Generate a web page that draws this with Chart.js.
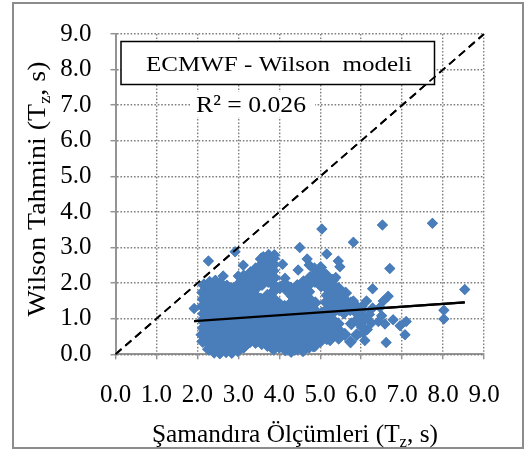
<!DOCTYPE html>
<html>
<head>
<meta charset="utf-8">
<script src="https://cdn.jsdelivr.net/npm/chart.js@4"></script>
<style>
  html, body { margin: 0; padding: 0; background: #fff; }
</style>
</head>
<body>
<canvas id="grafik" width="532" height="456"></canvas>
<script>
// Eksen sınırları
const eksenMin = 0;
const eksenMax = 9;
const eksenAdim = 1;

// Yoğun bölge (şamandıra Tz, Wilson Tz) - resimden okunan noktalar
const yogunKume = [
  [2.13,0.36],[2.11,0.55],[2.14,0.74],[2.12,0.95],[2.15,1.14],[2.12,1.35],[2.14,1.55],[2.13,1.74],[2.16,1.95],
  [2.27,0.14],[2.29,0.27],[2.26,0.46],[2.28,0.65],[2.25,0.86],[2.28,1.05],[2.27,1.24],[2.29,1.45],[2.26,1.64],[2.28,1.85],[2.3,2.02],
  [2.41,0.06],[2.43,0.17],[2.4,0.36],[2.42,0.57],[2.41,0.76],[2.44,0.95],[2.4,1.16],[2.42,1.35],[2.43,1.56],[2.41,1.75],[2.4,1.94],[2.44,2.06],
  [2.55,0.04],[2.56,0.26],[2.54,0.47],[2.57,0.66],[2.55,0.85],[2.53,1.06],[2.56,1.25],[2.55,1.46],[2.57,1.65],[2.54,1.84],[2.56,2.0],
  [2.7,0.07],[2.68,0.18],[2.71,0.37],[2.69,0.56],[2.72,0.77],[2.7,0.96],[2.68,1.15],[2.71,1.34],[2.7,1.56],[2.69,1.75],[2.72,1.92],
  [2.84,0.05],[2.85,0.27],[2.83,0.46],[2.86,0.67],[2.84,0.86],[2.82,1.05],[2.85,1.26],[2.84,1.45],[2.86,1.66],[2.83,1.85],
  [2.99,0.1],[2.97,0.19],[3.0,0.36],[2.98,0.57],[3.01,0.76],[2.99,0.97],[2.97,1.16],[3.0,1.35],[2.98,1.56],[3.01,1.76],[2.99,1.95],
  [3.13,0.2],[3.15,0.28],[3.12,0.47],[3.14,0.66],[3.13,0.86],[3.11,1.05],[3.14,1.26],[3.13,1.45],[3.15,1.64],[3.12,1.86],[3.14,2.05],[3.13,2.2],
  [3.28,0.35],[3.26,0.56],[3.29,0.75],[3.27,0.96],[3.3,1.15],[3.28,1.36],[3.26,1.55],[3.29,1.76],[3.27,1.95],[3.28,2.14],[3.3,2.3],
  [3.42,0.33],[3.44,0.46],[3.41,0.66],[3.43,0.85],[3.42,1.06],[3.4,1.25],[3.43,1.46],[3.42,1.65],[3.44,1.86],[3.41,2.05],[3.43,2.24],[3.42,2.4],
  [3.57,0.3],[3.55,0.55],[3.58,0.76],[3.56,0.95],[3.59,1.16],[3.57,1.35],[3.55,1.55],[3.58,1.96],[3.56,2.16],[3.57,2.35],[3.59,2.55],[3.56,2.68],
  [3.71,0.25],[3.73,0.46],[3.7,0.65],[3.72,0.86],[3.71,1.05],[3.69,1.26],[3.72,1.45],[3.71,1.66],[3.73,2.05],[3.7,2.25],[3.72,2.45],[3.71,2.62],[3.74,2.78],
  [3.86,0.14],[3.84,0.36],[3.87,0.56],[3.85,0.75],[3.88,0.96],[3.86,1.15],[3.84,1.36],[3.87,1.55],[3.85,1.76],[3.86,1.95],[3.88,2.15],[3.85,2.35],[3.87,2.52],[3.86,2.7],
  [4.0,0.2],[4.02,0.27],[3.99,0.46],[4.01,0.65],[4.0,0.86],[3.98,1.05],[4.01,1.26],[4.0,1.42],[4.02,1.88],
  [4.15,0.12],[4.13,0.36],[4.16,0.55],[4.14,0.76],[4.17,0.95],[4.15,1.16],[4.13,1.35],[4.16,1.82],[4.14,1.98],
  [4.29,0.08],[4.31,0.26],[4.28,0.46],[4.3,0.65],[4.29,0.86],[4.27,1.05],[4.3,1.26],[4.29,1.45],[4.31,1.64],[4.28,1.86],
  [4.44,0.15],[4.42,0.36],[4.45,0.55],[4.43,0.76],[4.46,0.95],[4.44,1.16],[4.42,1.35],[4.45,1.56],[4.43,1.75],[4.44,1.93],
  [4.58,0.1],[4.6,0.26],[4.57,0.46],[4.59,0.65],[4.58,0.86],[4.56,1.05],[4.59,1.26],[4.58,1.45],[4.6,1.66],[4.57,1.85],[4.59,2.04],
  [4.73,0.2],[4.71,0.36],[4.74,0.56],[4.72,0.75],[4.75,0.96],[4.73,1.15],[4.71,1.36],[4.74,1.55],[4.72,1.76],[4.73,1.96],[4.75,2.16],
  [4.87,0.24],[4.89,0.46],[4.86,0.65],[4.88,0.86],[4.87,1.05],[4.85,1.26],[4.88,1.45],[4.87,2.05],[4.89,2.24],[4.86,2.4],
  [5.02,0.38],[5.0,0.56],[5.03,0.76],[5.01,0.95],[5.04,1.16],[5.02,1.92],[5.0,2.14],[5.03,2.32],[5.01,2.44],
  [5.16,0.44],[5.18,0.66],[5.15,0.85],[5.17,1.06],[5.16,1.25],[5.14,1.46],[5.17,1.66],[5.16,1.86],[5.18,2.05],[5.15,2.22],
  [5.31,0.56],[5.29,0.76],[5.32,0.95],[5.3,1.16],[5.33,1.35],[5.31,1.55],[5.29,1.75],[5.32,1.95],[5.3,2.08],
  [5.45,0.45],[5.47,0.66],[5.44,0.86],[5.46,1.25],[5.45,1.46],[5.43,1.65],[5.46,1.84],
  [5.6,0.56],[5.58,1.16],[5.61,1.36],[5.59,1.55],[5.62,1.72],
  [5.74,0.35],[5.76,0.86],[5.73,1.25],[5.75,1.45],
  [5.89,0.55],[5.88,0.95],[5.9,1.15],[5.87,1.36],
  [6.03,0.76],[6.05,1.05],[6.02,1.25]
];

// Dağınık noktalar
const daginikNoktalar = [
  [1.92,1.29],[2.27,2.62],[2.63,2.2],[3.0,2.2],[2.92,2.88],[3.12,2.5],[3.61,2.74],[3.88,2.8],
  [4.08,2.53],[4.14,2.14],[4.46,2.37],[4.5,3.0],[4.68,2.68],[4.73,2.51],[5.16,2.82],[5.44,2.62],
  [5.48,2.46],[5.38,2.16],[5.04,3.52],[5.81,3.15],[6.52,3.63],[7.74,3.68],[6.7,2.41],[6.28,1.84],
  [6.66,1.63],[6.54,1.5],[6.46,1.32],[6.13,1.5],[5.81,1.5],[6.02,1.35],[6.28,1.3],[6.2,1.12],
  [6.1,1.0],[6.5,1.08],[6.78,0.97],[7.1,0.92],[6.95,0.8],[6.58,0.85],[6.42,0.92],[6.25,0.88],
  [6.0,0.82],[6.15,0.7],[6.05,0.6],[7.07,0.55],[6.61,0.33],[6.09,0.39],[5.24,0.39],[4.83,0.21],
  [4.38,0.12],[8.53,1.82],[8.02,1.24],[8.02,0.99]
];

// Doğrusal eğilim çizgisi ve 1:1 çizgisi
const egilimX = [1.92, 8.53];
const egilimY = [0.93, 1.46];
const birebirX = [0, 9];
const birebirY = [0, 9];

const baslik = 'ECMWF - Wilson  modeli';
const r2Yazi = 'R² = 0.026';
const xBaslik = [['Şamandıra Ölçümleri (T', false], ['z', true], [', s)', false]];
const yBaslik = [['Wilson Tahmini (T', false], ['z', true], [', s)', false]];

const FONT = "'Liberation Serif', 'Times New Roman', serif";
const MAVI = '#4A7EBB';

// Ortalanmış, istenen genişliğe yatay olarak uydurulmuş yazı (alt simge destekli)
function yaz(ctx, parcalar, boyut, genislik) {
  const olc = p => {
    ctx.font = (p[1] ? boyut * 0.66 : boyut) + 'px ' + FONT;
    return ctx.measureText(p[0]).width;
  };
  const toplam = parcalar.reduce((t, p) => t + olc(p), 0);
  ctx.save();
  ctx.scale(genislik / toplam, 1);
  let x = -toplam / 2;
  ctx.textAlign = 'left';
  ctx.textBaseline = 'alphabetic';
  parcalar.forEach(p => {
    const w = olc(p);
    ctx.fillText(p[0], x, p[1] ? boyut * 0.2 : 0);
    x += w;
  });
  ctx.restore();
}

// Izgara veri katmanlarından sonra çizildiği için kutu ve seriler en sonda tekrar üste alınır
const yazilar = {
  id: 'yazilar',
  afterDraw(chart) {
    const ctx = chart.ctx;
    ctx.save();
    // başlık kutusu
    ctx.fillStyle = '#fff';
    ctx.fillRect(121, 41.5, 313.5, 43);
    ctx.strokeStyle = '#000';
    ctx.lineWidth = 1.5;
    ctx.strokeRect(121, 41.5, 313.5, 43);
    ctx.fillStyle = '#000';
    ctx.save();
    ctx.translate(279, 70.5);
    yaz(ctx, [[baslik, false]], 22, 266);
    ctx.restore();
    // R²
    ctx.fillStyle = '#fff';
    ctx.fillRect(190, 92, 125, 25);
    ctx.fillStyle = '#000';
    ctx.save();
    ctx.translate(251, 111.5);
    yaz(ctx, [[r2Yazi, false]], 24, 110);
    ctx.restore();
    ctx.restore();

    // seriler ızgaranın üstünde
    for (let i = chart.data.datasets.length - 1; i >= 0; i--) {
      ctx.save();
      chart.getDatasetMeta(i).controller.draw();
      ctx.restore();
    }

    ctx.save();
    ctx.strokeStyle = '#8c8c8c';
    ctx.lineWidth = 2;
    ctx.strokeRect(13, 3, 510, 445);
    ctx.fillStyle = '#000';
    ctx.save();
    ctx.translate(295, 441.5);
    yaz(ctx, xBaslik, 25, 286);
    ctx.restore();
    ctx.save();
    ctx.translate(45, 189);
    ctx.rotate(-Math.PI / 2);
    yaz(ctx, yBaslik, 25, 255);
    ctx.restore();
    ctx.restore();
  }
};

function eksenAyar(dolgu, afterFit) {
  return {
    type: 'linear',
    min: eksenMin,
    max: eksenMax,
    ticks: {
      stepSize: eksenAdim,
      padding: dolgu,
      color: '#000',
      font: { family: FONT, size: 25 },
      callback: v => v.toFixed(1)
    },
    grid: {
      color: '#808080',
      lineWidth: 1.4,
      tickLength: 5,
      tickColor: '#949494',
      tickWidth: 1.5,
      z: 1
    },
    border: { color: '#949494', width: 2, dash: [1.6, 1.8], z: 1 },
    afterFit
  };
}

new Chart(document.getElementById('grafik'), {
  type: 'scatter',
  data: {
    datasets: [
      {
        label: '1:1',
        data: birebirX.map((x, i) => ({ x, y: birebirY[i] })),
        showLine: true,
        borderColor: '#000',
        borderWidth: 1.8,
        borderDash: [8, 5],
        pointRadius: 0
      },
      {
        label: 'Eğilim',
        data: egilimX.map((x, i) => ({ x, y: egilimY[i] })),
        showLine: true,
        borderColor: '#000',
        borderWidth: 2.2,
        pointRadius: 0
      },
      {
        label: 'Wilson (dağınık)',
        data: daginikNoktalar.map(p => ({ x: p[0], y: p[1] })),
        pointStyle: 'rectRot',
        pointRadius: 5.5,
        backgroundColor: MAVI,
        borderWidth: 0,
        clip: false
      },
      {
        label: 'Wilson (yoğun)',
        data: yogunKume.map(p => ({ x: p[0], y: p[1] })),
        pointStyle: 'rectRot',
        pointRadius: 6.3,
        backgroundColor: MAVI,
        borderWidth: 0,
        clip: false
      }
    ]
  },
  options: {
    responsive: false,
    devicePixelRatio: 1,
    animation: false,
    layout: { padding: { left: 0, right: 48, top: 28.5, bottom: 0 } },
    plugins: { legend: { display: false }, tooltip: { enabled: false } },
    scales: {
      x: eksenAyar(21, s => { s.height = 456 - 354.3; }),
      y: eksenAyar(19, s => { s.width = 115.5; })
    }
  },
  plugins: [yazilar]
});
</script>
</body>
</html>
